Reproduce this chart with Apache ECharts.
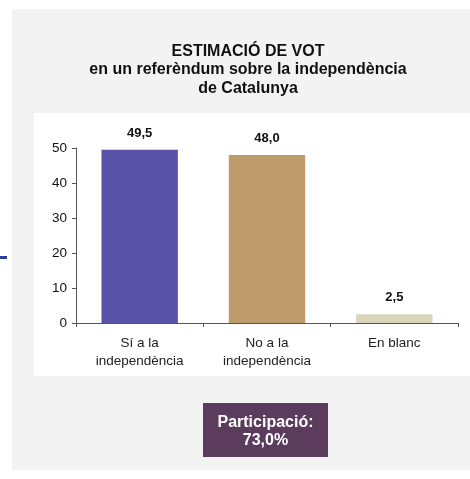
<!DOCTYPE html>
<html>
<head>
<meta charset="utf-8">
<style>
html,body{margin:0;padding:0;background:#fff;}
#chart{width:470px;height:479px;}
</style>
<script src="https://cdn.jsdelivr.net/npm/echarts@6/dist/echarts.min.js"></script>
</head>
<body>
<div id="chart"></div>
<script>
var titleLines = ['ESTIMACIÓ DE VOT', 'en un referèndum sobre la independència', 'de Catalunya'];
var categories = ['Sí a la\nindependència', 'No a la\nindependència', 'En blanc'];
var values = [49.5, 48.0, 2.5];
var barColors = ['#5a53a9', '#bf9a6b', '#d9d6bc'];
var yTicks = [0, 10, 20, 30, 40, 50];
var participationLabel = 'Participació:';
var participationValue = 73.0;

function fmt(v) { return v.toFixed(1).replace('.', ','); }

var chart = echarts.init(document.getElementById('chart'), null, {renderer: 'canvas'});
var font = 'Liberation Sans, Arial, sans-serif';

chart.setOption({
  animation: false,
  textStyle: {fontFamily: font},
  title: {
    text: titleLines.join('\n'),
    left: 243,
    top: 37,
    textAlign: 'center',
    textStyle: {fontSize: 16, fontWeight: 'bold', color: '#111', lineHeight: 18.5, fontFamily: font}
  },
  graphic: [
    {type: 'rect', z: -10, shape: {x: 12, y: 9, width: 470, height: 461}, style: {fill: '#f3f3f3'}},
    {type: 'rect', z: -9, shape: {x: 34, y: 113, width: 440, height: 263}, style: {fill: '#ffffff'}},
    {type: 'rect', z: -9, shape: {x: 0, y: 256, width: 7, height: 3}, style: {fill: '#2b3f9a'}},
    {type: 'rect', z: 5, shape: {x: 203, y: 403, width: 125, height: 54}, style: {fill: '#5b3c5c'}},
    {type: 'text', z: 6, left: 205.5, top: 414, style: {
      text: participationLabel + '\n' + fmt(participationValue) + '%',
      width: 120, align: 'center', x: 60,
      fill: '#ffffff', font: 'bold 16px ' + font, lineHeight: 18, textAlign: 'center'
    }}
  ],
  grid: {left: 76, right: 12, top: 148, height: 175, containLabel: false},
  xAxis: {
    type: 'category',
    data: categories,
    axisLine: {lineStyle: {color: '#555', width: 1}},
    axisTick: {show: true, alignWithLabel: false, length: 4, lineStyle: {color: '#555'}},
    axisLabel: {color: '#222', fontSize: 13.5, lineHeight: 18, margin: 11, fontFamily: font}
  },
  yAxis: {
    type: 'value',
    min: yTicks[0], max: yTicks[yTicks.length - 1], interval: 10,
    splitLine: {show: false},
    axisLine: {show: true, lineStyle: {color: '#555', width: 1}},
    axisTick: {show: true, length: 4, lineStyle: {color: '#555'}},
    axisLabel: {color: '#111', fontSize: 13.5, margin: 9, fontFamily: font}
  },
  series: [{
    type: 'bar',
    barWidth: '60%',
    data: values.map(function (v, i) { return {value: v, itemStyle: {color: barColors[i]}}; }),
    label: {
      show: true, position: 'top', distance: 10,
      formatter: function (p) { return fmt(p.value); },
      fontSize: 13, fontWeight: 'bold', color: '#111', fontFamily: font
    }
  }]
});
</script>
</body>
</html>
